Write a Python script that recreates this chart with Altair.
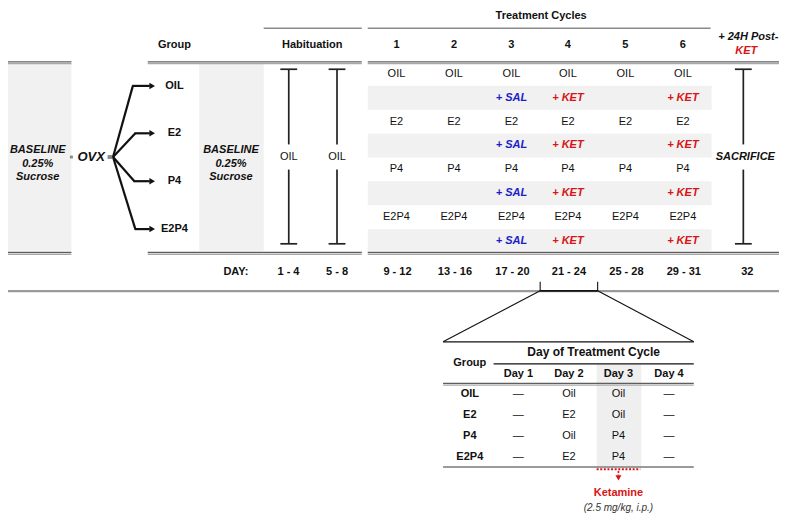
import altair as alt
import pandas as pd

# ---------------- content ----------------
groups = ["OIL", "E2", "P4", "E2P4"]
cycles = ["1", "2", "3", "4", "5", "6"]
hab_days = ["1 - 4", "5 - 8"]
cycle_days = ["9 - 12", "13 - 16", "17 - 20", "21 - 24", "25 - 28", "29 - 31"]
sac_day = "32"
injections = ["", "", "+ SAL", "+ KET", "", "+ KET"]
zoom_days = ["Day 1", "Day 2", "Day 3", "Day 4"]
zoom_day1 = ["—", "—", "—", "—"]
zoom_day2 = ["Oil", "E2", "Oil", "E2"]
zoom_day3 = ["Oil", "Oil", "P4", "P4"]
zoom_day4 = ["—", "—", "—", "—"]

# ---------------- layout (image pixel space 787 x 524) ----------------
FONT = "Liberation Sans"
RED = "#d81416"
BLUE = "#1c1cc8"
BLACK = "#111111"
GRID = "#f1f1f1"
cyc_x = [396, 454, 512, 569, 627, 685]
hab_x = [287.3, 336]
sac_x = 746
row0, row_h = 67, 24.7
group_y = [79.5, 128.5, 178, 227.5]
day_x = [287, 336, 397, 455, 513, 570, 628, 686, 750]
zt_col_x = [519, 570, 620, 671]
zt_row_y = [398.3, 420, 441.7, 462.7]

X = lambda f="x": alt.X(f"{f}:Q", scale=alt.Scale(domain=[4, 782], nice=False, zero=False), axis=None)
Y = lambda f="y": alt.Y(f"{f}:Q", scale=alt.Scale(domain=[-1, 524], nice=False, zero=False, reverse=True), axis=None)

# ---------------- rectangles ----------------
rects = [
    (0, 68, 57, 250, GRID),
    (197, 262, 57, 250, GRID),
    (598, 643, 367.5, 472.5, "#efefef"),
    (66.5, 69.5, 151.5, 154.5, "#888888"),
    (104.5, 109, 151, 155, "#888888"),
]
for i in range(4):
    top = row0 - row_h / 2 + row_h * (2 * i + 1)
    rects.append((367, 714, top, min(top + row_h, 250), GRID))
rect_df = pd.DataFrame(rects, columns=["x", "x2", "y", "y2", "c"])
rect_layer = alt.Chart(rect_df).mark_rect().encode(
    x=X(), x2="x2:Q", y=Y(), y2="y2:Q", color=alt.Color("c:N", scale=None))

# ---------------- lines ----------------
lines = []
def L(x, y, x2, y2, c=BLACK, w=1.0):
    lines.append((x, y, x2, y2, c, w))

L(262, 20, 361, 20, "#8a8a8a", 1.5)
L(367, 20, 713, 20, "#8a8a8a", 1.5)
for yy in (54.6, 251.6):
    for a, b in ((0, 68), (145, 361), (367, 787)):
        L(a, yy, b, yy, "#5e5e5e", 1.2)
        L(a, yy + 1.9, b, yy + 1.9, "#a8a8a8", 1.3)
L(0, 291.6, 787, 291.6, "#9a9a9a", 2.3)
# I-beams
for bx in hab_x + [sac_x]:
    L(bx, 62.3, bx, 140, "#222222", 1.7)
    L(bx, 166, bx, 242.7, "#222222", 1.7)
    L(bx - 8.5, 62.3, bx + 8.5, 62.3, "#222222", 1.7)
    L(bx - 8.5, 242.7, bx + 8.5, 242.7, "#222222", 1.7)
# OVX branches
corners = [(130, group_y[0]), (132.5, group_y[1]), (131.5, group_y[2]), (132.5, group_y[3])]
for cx, cy in corners:
    L(110, 153, cx, cy, BLACK, 2.2)
    L(cx - 0.8, cy, 147, cy, BLACK, 2.2)
# zoom bracket + trapezoid
L(541, 282, 541, 291.6, BLACK, 1.1)
L(599, 282, 599, 291.6, BLACK, 1.1)
L(541, 291.3, 599, 291.3, BLACK, 1.6)
L(541, 291.3, 443, 344, BLACK, 1.1)
L(599, 291.3, 696, 344, BLACK, 1.1)
L(443, 344, 696, 344, BLACK, 1.1)
# zoom table rules
L(494, 366.7, 696, 366.7, BLACK, 1.2)
L(443, 386.9, 696, 386.9, "#5e5e5e", 1.2)
L(443, 388.8, 696, 388.8, "#a8a8a8", 1.3)
L(443, 473.4, 696, 473.4, "#9a9a9a", 2.0)

line_df = pd.DataFrame(lines, columns=["x", "y", "x2", "y2", "c", "w"])
line_layer = alt.Chart(line_df).mark_rule(strokeCap="butt").encode(
    x=X(), y=Y(), x2="x2:Q", y2="y2:Q",
    color=alt.Color("c:N", scale=None), strokeWidth=alt.StrokeWidth("w:Q", scale=None))

dot_df = pd.DataFrame([(598, 475.8, 642, 475.8, 2.0), (620, 477.5, 620, 482, 1.6)],
                      columns=["x", "y", "x2", "y2", "w"])
dot_layer = alt.Chart(dot_df).mark_rule(color=RED, strokeDash=[2, 1.6], strokeCap="butt").encode(
    x=X(), y=Y(), x2="x2:Q", y2="y2:Q", strokeWidth=alt.StrokeWidth("w:Q", scale=None))

# ---------------- arrow heads ----------------
head_df = pd.DataFrame([(149.5, cy) for _, cy in corners], columns=["x", "y"])
head_layer = alt.Chart(head_df).mark_point(shape="triangle-right", filled=True, color=BLACK,
                                            opacity=1, size=42).encode(x=X(), y=Y())
red_head = alt.Chart(pd.DataFrame({"x": [620], "y": [484.5]})).mark_point(
    shape="triangle-down", filled=True, color=RED, opacity=1, size=36).encode(x=X(), y=Y())

# ---------------- texts ----------------
def texts(rows, weight="normal", style="normal"):
    df = pd.DataFrame([r for r in rows if r[2] != ""], columns=["x", "y", "t", "c", "s"])
    return alt.Chart(df).mark_text(font=FONT, fontWeight=weight, fontStyle=style,
                                   align="center", baseline="middle").encode(
        x=X(), y=Y(), text="t:N", color=alt.Color("c:N", scale=None),
        size=alt.Size("s:Q", scale=None))

bold = [(172, 37, "Group", BLACK, 11), (311, 37, "Habituation", BLACK, 11),
        (542, 7.5, "Treatment Cycles", BLACK, 11), (234, 271.7, "DAY:", BLACK, 11)]
bold += [(cx, 37, c, BLACK, 11) for cx, c in zip(cyc_x, cycles)]
bold += [(172, gy, g, BLACK, 11) for gy, g in zip(group_y, groups)]
bold += [(dx, 271.7, d, BLACK, 11) for dx, d in zip(day_x, hab_days + cycle_days + [sac_day])]
bold += [(595, 355, "Day of Treatment Cycle", BLACK, 12), (470, 366, "Group", BLACK, 11)]
bold += [(zx, 377.7, d, BLACK, 11) for zx, d in zip(zt_col_x, zoom_days)]
bold += [(470, zy, g, BLACK, 11) for zy, g in zip(zt_row_y, groups)]
bold += [(620, 500, "Ketamine", RED, 11)]

regular = []
for gi, g in enumerate(groups):
    ry = row0 + row_h * 2 * gi
    regular += [(cx, ry, g, BLACK, 11) for cx in cyc_x]
regular += [(hx, 153, "OIL", BLACK, 11) for hx in hab_x]
for col, vals in zip(zt_col_x, [zoom_day1, zoom_day2, zoom_day3, zoom_day4]):
    regular += [(col, zy, v, BLACK, 11) for zy, v in zip(zt_row_y, vals)]

bolditalic = []
for bx in (34, 229):
    bolditalic += [(bx, 145.7, "BASELINE", BLACK, 11), (bx, 160, "0.25%", BLACK, 11),
                   (bx, 174, "Sucrose", BLACK, 11)]
bolditalic += [(88, 153, "OVX", BLACK, 13), (748, 153, "SACRIFICE", BLACK, 11),
               (751, 29, "+ 24H Post-", BLACK, 11), (749, 43.5, "KET", RED, 11)]
for gi in range(4):
    ry = row0 + row_h * (2 * gi + 1)
    for cx, inj in zip(cyc_x, injections):
        bolditalic.append((cx, ry, inj, BLUE if "SAL" in inj else RED, 11))

italic = [(620, 515.5, "(2.5 mg/kg, i.p.)", "#333333", 10)]

chart = alt.layer(
    rect_layer, line_layer, dot_layer, head_layer, red_head,
    texts(regular), texts(bold, weight="bold"),
    texts(bolditalic, weight="bold", style="italic"), texts(italic, style="italic"),
).properties(width=771, height=508, autosize="none", padding=0).configure_view(strokeWidth=0)

chart.save("out.html", embed_options={"renderer": "svg", "actions": False})
